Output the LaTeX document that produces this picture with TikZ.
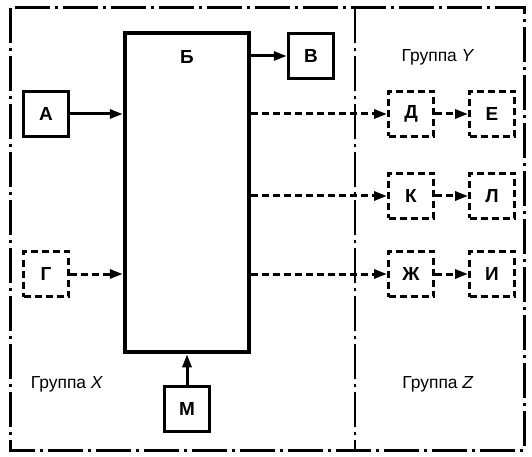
\documentclass[tikz,border=0pt]{standalone}
\usepackage{fontspec}
\setmainfont{Liberation Sans}
\usetikzlibrary{arrows.meta}

\tikzset{
  blk/.style={draw, line width=3.5bp, minimum size=45bp, inner sep=0pt,
    font=\fontsize{19}{19}\selectfont\bfseries},
  optblk/.style={blk, line width=3bp, dash pattern=on 7bp off 4bp},
  link/.style={line width=3bp, -{Triangle[length=13bp,width=9bp]}},
  optlink/.style={link, dash pattern=on 7bp off 4bp},
  grp/.style={font=\fontsize{17.5}{17.5}\selectfont},
  frm/.style={line width=3bp, dash pattern=on 35bp off 5bp on 3bp off 5bp}
}

\begin{document}
\begin{tikzpicture}[x=1bp,y=-1bp]
  \useasboundingbox (0,0) rectangle (532,457);

  % frame of the groups
  \draw[frm] (10,8) rectangle (524,450);
  \draw[frm, line width=2.5bp] (355,8) -- (355,450);

  % main block
  \node[draw, line width=4.5bp, minimum width=124bp, minimum height=319bp]
    (Bb) at (187,192.5) {};
  \node[blk, draw=none] (BbLabel) at (187,57) {Б};

  \node[blk] (A) at (46,114) {А};
  \node[blk] (V) at (311,56) {В};
  \node[blk] (M) at (187,409) {М};
  \node[optblk] (G) at (46,274) {Г};

  \node[optblk] (D) at (411,114) {Д};
  \node[optblk] (E) at (492,114) {Е};
  \node[optblk] (K) at (411,196) {К};
  \node[optblk] (L) at (492,196) {Л};
  \node[optblk] (Zh) at (411,274) {Ж};
  \node[optblk] (I) at (492,274) {И};

  % group names
  \node[grp] (grpX) at (67,384) {Группа \textit{X}};
  \node[grp] (grpY) at (438,57) {Группа \textit{Y}};
  \node[grp] (grpZ) at (438,384) {Группа \textit{Z}};

  % links
  \draw[link] (A.east) -- (A.east -| Bb.west);
  \draw[optlink] (G.east) -- (G.east -| Bb.west);
  \draw[link] (M.north) -- (M.north |- Bb.south);
  \draw[link] (V.west -| Bb.east) -- (V.west);
  \foreach \src/\dst in {D/E, K/L, Zh/I} {
    \draw[optlink] (\src.west -| Bb.east) -- (\src.west);
    \draw[optlink] (\src.east) -- (\dst.west);
  }
\end{tikzpicture}
\end{document}
